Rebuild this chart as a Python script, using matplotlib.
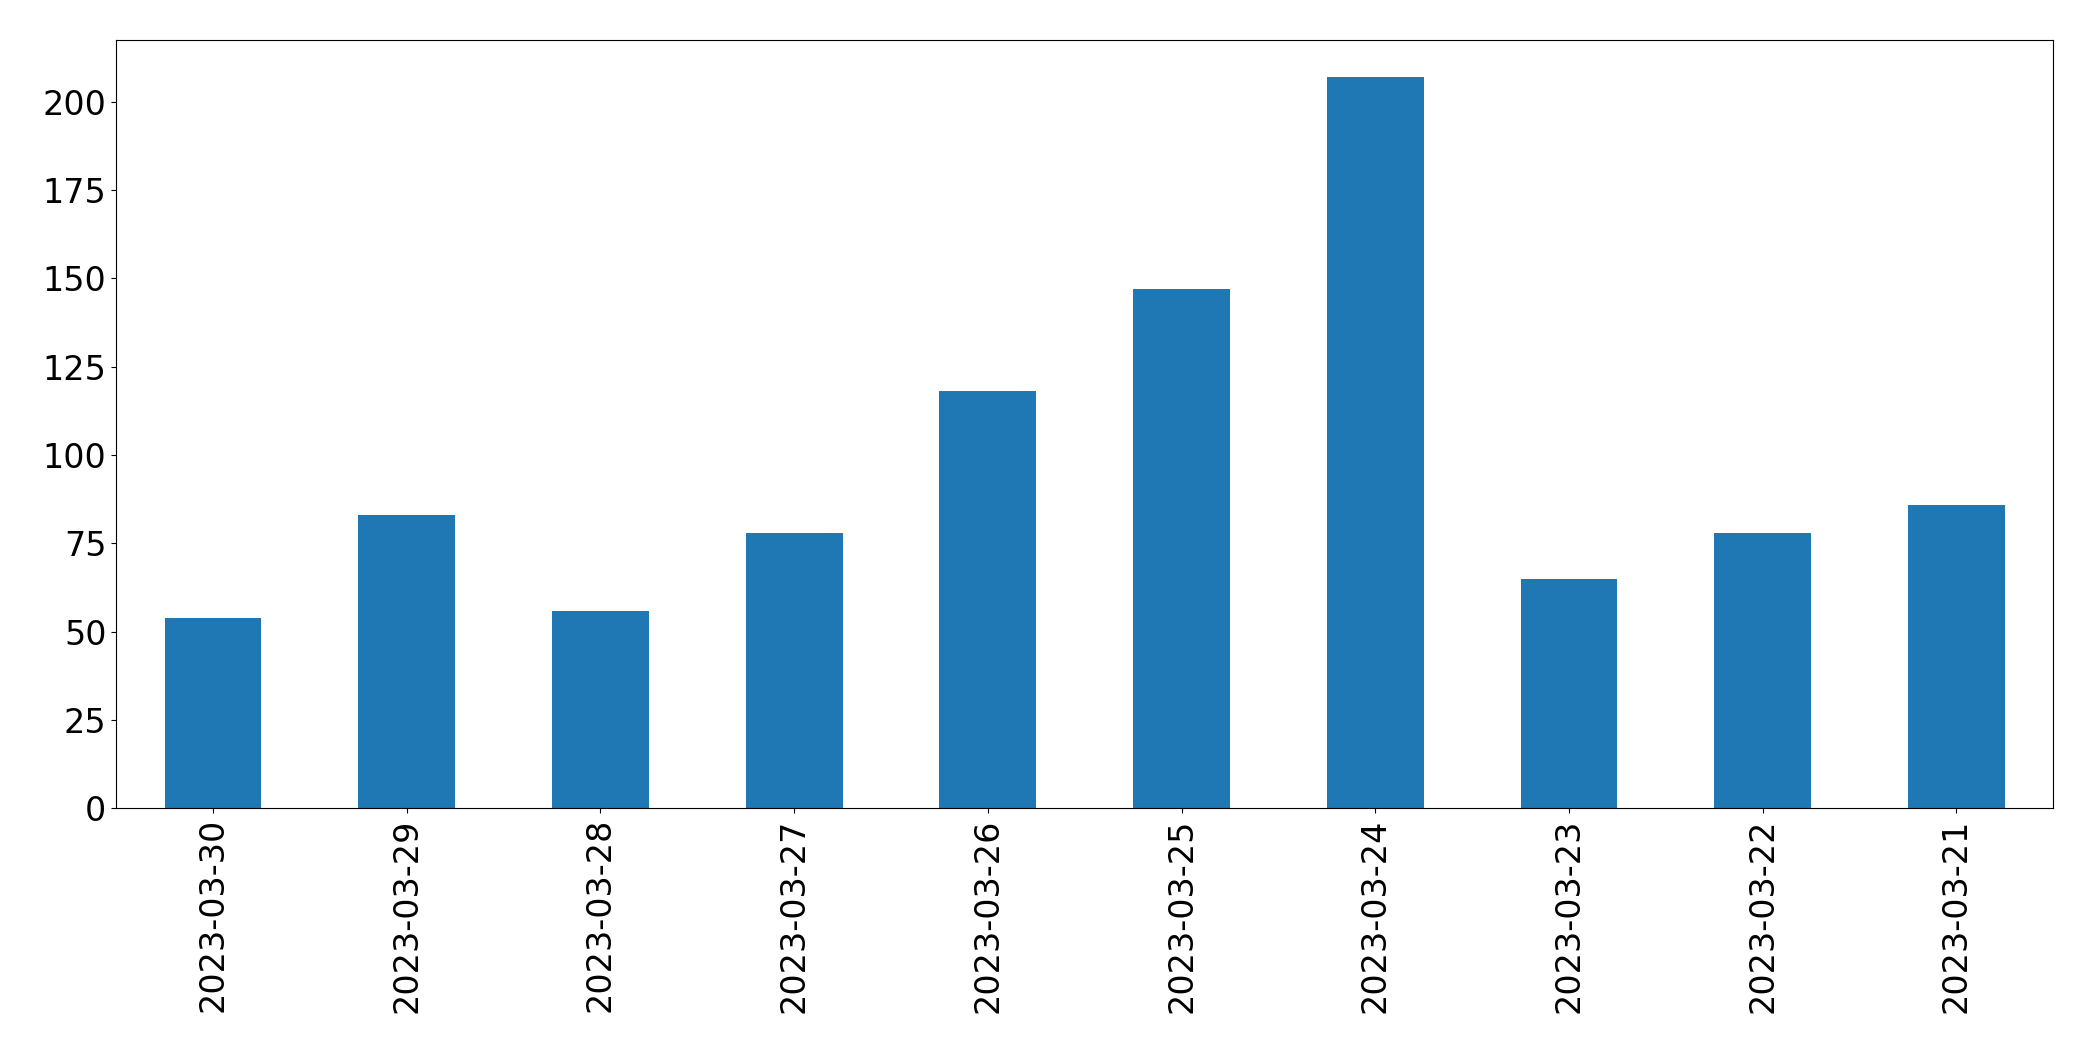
import matplotlib
matplotlib.use("Agg")
import matplotlib.pyplot as plt

dates = ["2023-03-30","2023-03-29","2023-03-28","2023-03-27","2023-03-26",
         "2023-03-25","2023-03-24","2023-03-23","2023-03-22","2023-03-21"]
counts = [54, 83, 56, 78, 118, 147, 207, 65, 78, 86]

fig = plt.figure(figsize=(20.93, 10.61), dpi=100)
ax = fig.add_axes([0.0555, 0.238, 0.9255, 0.724])
x = range(len(dates))
ax.bar(x, counts, width=0.5, color="#1f77b4")
ax.set_xlim(-0.5, len(dates) - 0.5)
ax.set_xticks(list(x))
ax.set_xticklabels(dates, rotation=90)
ax.set_yticks(range(0, 201, 25))
ax.tick_params(labelsize=24)
fig.savefig("out.png", dpi=100)
